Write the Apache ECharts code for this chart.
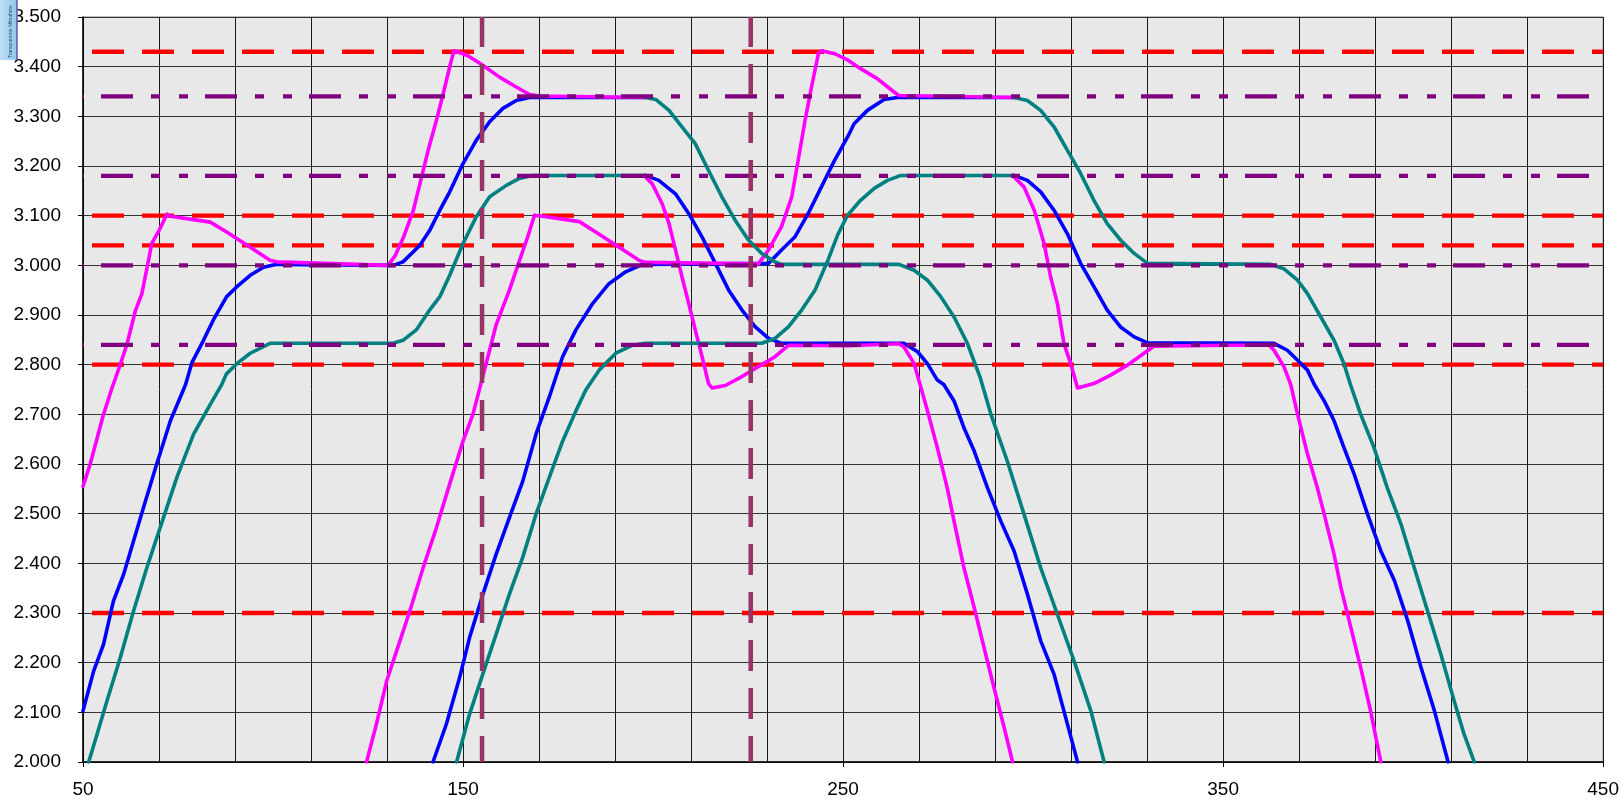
<!DOCTYPE html>
<html>
<head>
<meta charset="utf-8">
<script src="https://cdn.jsdelivr.net/npm/echarts@6/dist/echarts.min.js"></script>
<style>
  html, body { margin: 0; padding: 0; background: #fff; }
  .levelChart { width: 1622px; height: 799px; }
</style>
</head>
<body>
<div class="levelChart"></div>
<script>
// reference levels
const redLevels = [3.43, 3.10, 3.04, 2.80, 2.30];
const purpleLevels = [3.34, 3.18, 3.00, 2.84];
const markerX = [155, 225.7];

// magenta curves
const magentaA = [[50,2.555],[51.9,2.60],[55.4,2.70],[57.5,2.75],[59.8,2.80],[61.6,2.842],[63.8,2.909],[65.5,2.943],[68.1,3.044],[70,3.07],[72.1,3.103],[73,3.099],[83.5,3.087],[87.8,3.067],[93.9,3.037],[99.2,3.010],[100.9,3.007],[130.3,3.0],[132.1,3.019],[134.3,3.056],[136.9,3.11],[139.1,3.178],[140.8,3.231],[143,3.292],[144.8,3.346],[146.5,3.40],[147.6,3.432],[150,3.426],[151.7,3.42],[155.2,3.403],[159.6,3.379],[164,3.359],[167.5,3.344],[170.1,3.341],[198,3.338]];
const magentaB = [[124.6,2.0],[127.2,2.076],[129.9,2.163],[133.4,2.244],[136,2.304],[139.5,2.391],[143,2.472],[146.5,2.56],[150,2.646],[152.6,2.70],[155,2.77],[158.7,2.88],[162.2,2.95],[164.6,3.004],[167,3.057],[168.8,3.101],[171.8,3.098],[180.6,3.088],[184.9,3.067],[191,3.037],[196.3,3.01],[198,3.006],[227.7,3.003],[230.4,3.031],[233.8,3.078],[236.5,3.138],[238.2,3.212],[240,3.292],[241.7,3.359],[243.5,3.426],[244.3,3.432],[247.8,3.426],[251.3,3.413],[254.6,3.396],[259,3.376],[263.4,3.349],[264.7,3.342],[295,3.338]];
const magentaC = [[198,3.178],[199.8,3.164],[202.4,3.124],[204.2,3.084],[205.9,3.031],[207.6,2.977],[209.4,2.923],[211.1,2.87],[212.9,2.816],[214.6,2.762],[215.5,2.753],[219,2.758],[223.4,2.776],[227.7,2.796],[232.1,2.816],[235.6,2.839],[251.3,2.838],[264.7,2.842],[266,2.836],[268.7,2.802],[270,2.767],[272.2,2.707],[274.8,2.633],[277.4,2.552],[279.2,2.485],[281.8,2.391],[284.5,2.311],[287.1,2.23],[289.7,2.15],[292.4,2.069],[294.6,2.0]];
const magentaD = [[295,3.178],[297.6,3.158],[300.3,3.111],[302.9,3.044],[304.6,2.977],[306.4,2.923],[308.1,2.843],[309.9,2.802],[311.7,2.753],[316,2.762],[320.4,2.779],[324.8,2.799],[329.2,2.823],[331.8,2.837],[351,2.839],[362.1,2.839],[363.4,2.829],[366,2.796],[367.8,2.76],[369.6,2.70],[372.2,2.62],[374.8,2.552],[376.6,2.499],[379.2,2.418],[381,2.351],[383.6,2.271],[386.2,2.19],[388.8,2.103],[391.5,2.0]];

// blue curves
const blueA = [[50,2.103],[52.8,2.183],[55.4,2.237],[58,2.324],[60.7,2.378],[63.3,2.445],[65.9,2.512],[69.4,2.60],[73,2.687],[77,2.76],[78.6,2.803],[81.7,2.849],[84.3,2.89],[87.8,2.937],[90.5,2.957],[94,2.98],[97.5,2.996],[101,3.002],[131.6,3.0],[134.2,3.007],[138.6,3.04],[141.2,3.07],[143.9,3.111],[146.5,3.148],[150,3.205],[153.5,3.252],[157,3.289],[160.5,3.316],[164,3.332],[167.5,3.338],[198,3.338]];
const blueB = [[142.1,2.0],[145.6,2.076],[149.1,2.17],[151.7,2.25],[155.2,2.337],[158.7,2.418],[162.2,2.492],[165.7,2.565],[169.2,2.66],[172.7,2.735],[176.2,2.816],[179.7,2.87],[184.1,2.923],[188.4,2.963],[192.8,2.987],[197.2,3.002],[230.4,3.004],[233.8,3.031],[237.3,3.057],[240.8,3.104],[244.3,3.158],[247.8,3.212],[251.3,3.26],[252.9,3.285],[256.4,3.312],[260.8,3.334],[264.3,3.338],[295,3.338]];
const blueC = [[198,3.181],[201.5,3.171],[205.9,3.144],[209.4,3.104],[212.9,3.057],[216.4,3.004],[219.9,2.95],[223.4,2.91],[226.9,2.876],[230.4,2.853],[233.8,2.843],[266,2.843],[269.6,2.826],[272.2,2.802],[274.8,2.769],[276.5,2.76],[279.2,2.727],[281.8,2.673],[284.5,2.626],[288,2.552],[291.5,2.485],[295,2.425],[298.5,2.338],[302,2.244],[305.5,2.177],[308.1,2.103],[311.7,2.0]];
const blueD = [[295,3.181],[298.5,3.171],[302,3.148],[305.5,3.111],[309,3.064],[312.5,3.004],[316,2.957],[319.5,2.91],[323,2.876],[326.6,2.856],[330.1,2.844],[363.4,2.843],[366.9,2.829],[369.6,2.809],[372.2,2.789],[374,2.76],[376.6,2.727],[379.2,2.687],[381.8,2.633],[384.5,2.579],[388,2.499],[391.5,2.425],[395.1,2.365],[398.6,2.284],[402.1,2.19],[405.6,2.103],[409.2,2.0]];

// teal curves
const tealA = [[51.5,2.0],[53.7,2.056],[56.3,2.123],[59.8,2.21],[63.3,2.304],[66.8,2.391],[70.3,2.472],[74.7,2.573],[79.1,2.66],[83.5,2.72],[86.5,2.76],[87.8,2.782],[90.5,2.802],[94,2.823],[99.2,2.843],[131.6,2.843],[134.2,2.849],[137.7,2.87],[141.2,2.91],[143.9,2.937],[146.5,2.98],[150,3.044],[153.5,3.098],[157,3.138],[161.4,3.161],[164.8,3.175],[168.3,3.181],[198,3.181]];
const tealB = [[148.3,2.0],[151.7,2.096],[155.2,2.177],[158.7,2.257],[162.2,2.338],[165.7,2.412],[169.2,2.499],[172.7,2.573],[176.2,2.646],[179.7,2.707],[182.3,2.749],[185.8,2.789],[190.2,2.823],[194.5,2.839],[198,2.843],[228.6,2.843],[232.1,2.853],[235.6,2.876],[239.1,2.91],[242.6,2.95],[246,3.01],[248.5,3.06],[251.1,3.10],[254.6,3.131],[258.2,3.155],[261.7,3.171],[265.2,3.181],[295,3.181]];
const tealC = [[198,3.338],[200.7,3.334],[204.2,3.312],[207.6,3.279],[211.1,3.245],[214.6,3.191],[218.1,3.138],[221.6,3.091],[225.1,3.051],[228.6,3.024],[232.1,3.007],[233.8,3.002],[264.7,3.002],[268.7,2.99],[272.2,2.97],[275.7,2.937],[279.2,2.896],[282.7,2.843],[286,2.776],[288.9,2.70],[293.2,2.606],[297.6,2.499],[302,2.391],[306.4,2.297],[310.8,2.203],[315.2,2.103],[318.7,2.0]];
const tealD = [[295,3.338],[298.5,3.332],[302,3.312],[305.5,3.279],[309,3.232],[312.5,3.185],[316,3.131],[319.5,3.084],[323,3.051],[326.6,3.024],[330.1,3.004],[362.5,3.002],[366,2.993],[369.6,2.97],[372.2,2.943],[375.7,2.896],[379.2,2.849],[381.8,2.802],[383.5,2.76],[386.2,2.70],[389.7,2.633],[393.2,2.552],[396.8,2.479],[400.3,2.391],[403.8,2.304],[407.3,2.217],[410.8,2.123],[413.4,2.056],[416.1,2.0]];

const FONT = "'Liberation Sans', Arial, sans-serif";

function curve(data, color){
    return {
        type: 'line', data: data, xAxisIndex: 0, symbol: 'none', smooth: false, silent: true,
        lineStyle: { color: color, width: 3.6, cap: 'round', join: 'round' }
    };
}

function hLine(v, color, dash, offset){
    return {
        type: 'line', data: [[50, v], [450, v]], xAxisIndex: 0, symbol: 'none', silent: true,
        lineStyle: { color: color, width: 4.3, type: dash, dashOffset: offset, cap: 'butt' }
    };
}

function vLine(x){
    return {
        type: 'line', data: [[x, 3.5], [x, 2.0]], xAxisIndex: 0, symbol: 'none', silent: true,
        lineStyle: { color: '#993366', width: 4.5, type: [31, 17], dashOffset: 1, cap: 'butt' }
    };
}

class LevelChart{
    constructor(){
        this.chartDom = document.querySelector(".levelChart");
        this.mChart = echarts.init(this.chartDom);
    }

    setOption(){
        const series = [];
        redLevels.forEach(v => series.push(hLine(v, '#FF0000', [32, 18], 41)));
        [blueA, blueB, blueC, blueD].forEach(d => series.push(curve(d, '#0000FF')));
        [magentaA, magentaB, magentaC, magentaD].forEach(d => series.push(curve(d, '#FF00FF')));
        [tealA, tealB, tealC, tealD].forEach(d => series.push(curve(d, '#008080')));
        purpleLevels.forEach(v => series.push(hLine(v, '#800080', [32, 18, 9, 19, 9, 17], 86)));
        markerX.forEach(x => series.push(vLine(x)));

        this.option = {
            animation: false,
            backgroundColor: '#FFFFFF',
            textStyle: { fontFamily: FONT },
            grid: {
              left: 83, right: 16, top: 17, bottom: 37,
              show: true, backgroundColor: '#E8E8E8',
              borderColor: '#808080', borderWidth: 1
            },
            xAxis: [
              {
                type: 'value', min: 50, max: 450, interval: 20, position: 'bottom',
                axisLine: { show: true, onZero: false, lineStyle: { color: '#000', width: 1.5 } },
                axisTick: { show: false },
                axisLabel: { show: false },
                splitLine: { show: true, lineStyle: { color: '#1a1a1a', width: 1 } }
              },
              {
                type: 'value', min: 50, max: 450, interval: 100, position: 'bottom',
                axisLine: { show: false, onZero: false },
                axisTick: { show: true, length: 5, lineStyle: { color: '#000' } },
                axisLabel: { show: true, margin: 18, color: '#000', fontSize: 19, fontFamily: FONT },
                splitLine: { show: false }
              }
            ],
            yAxis: {
              type: 'value', min: 2.0, max: 3.5, interval: 0.1,
              axisLine: { show: true, onZero: false, lineStyle: { color: '#000', width: 1.5 } },
              axisTick: { show: true, length: 5, lineStyle: { color: '#000' } },
              axisLabel: {
                margin: 22, color: '#000', fontSize: 19, fontFamily: FONT,
                formatter: v => v.toFixed(3)
              },
              splitLine: { show: true, lineStyle: { color: '#333', width: 1 } }
            },
            graphic: [
              {
                type: 'rect', left: 0, top: 0, z: 100,
                shape: { width: 17, height: 60 },
                style: {
                  fill: new echarts.graphic.LinearGradient(0, 0, 1, 0, [
                    { offset: 0, color: '#BFE0F6' }, { offset: 1, color: '#8EC6EC' }
                  ])
                }
              },
              {
                type: 'line', z: 101,
                shape: { x1: 17, y1: 0, x2: 17, y2: 60 },
                style: { stroke: '#5B5BA8', lineWidth: 1.5 }
              },
              {
                type: 'text', z: 102, x: 8, y: 58, rotation: Math.PI / 2,
                style: { text: 'Transparente Mitnahme', fontSize: 5, fill: '#33507a', fontFamily: FONT }
              }
            ],
            series: series
        }
    }

    run(){
        this.setOption();
        this.option && this.mChart.setOption(this.option);
    }
}

new LevelChart().run();
</script>
</body>
</html>
